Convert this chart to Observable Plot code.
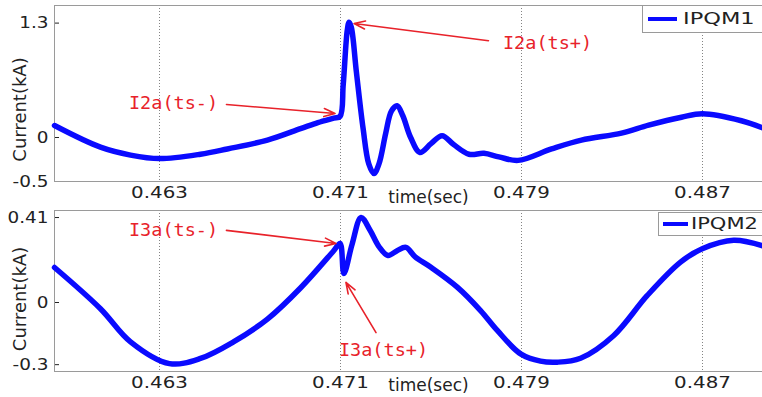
<!DOCTYPE html>
<html><head><meta charset="utf-8">
<script src="https://cdn.jsdelivr.net/npm/d3@7"></script>
<script src="https://cdn.jsdelivr.net/npm/@observablehq/plot@0.6"></script>
<style>
body{margin:0;background:#fff;overflow:hidden}
#wrap{position:relative;width:762px;height:397px;overflow:hidden;background:#fff}
#wrap svg{display:block;overflow:visible}
.panel{position:absolute;left:0}
.legend{position:absolute;background:#fff;border:1px solid #9a9a9a;box-sizing:border-box;width:160px}
.legend .ln{position:absolute;height:4px;background:#0a0aff}
.legend .lt{position:absolute;font:15px "DejaVu Sans";line-height:16px;color:#222;white-space:nowrap;transform-origin:left center}
</style>
</head><body>
<div id="wrap"></div>
<script>
// ---- data ----
const seriesNames = ["IPQM1", "IPQM2"];
const xTicks = [0.463, 0.471, 0.479, 0.487];
const xDomain = [0.4583591, 0.4897403];
const yTicks1 = [-0.5, 0, 1.3];
const yTicks2 = [-0.3, 0, 0.41];
const yDomain1 = [-0.5, 1.5];
const yDomain2 = [-0.333, 0.444];
const xLabel = "time(sec)";
const yLabel = "Current(kA)";

// IPQM1 current (kA) vs time (s)
const t1 = [0.45836, 0.46039, 0.46172, 0.4630, 0.46481, 0.4660, 0.46777, 0.46923, 0.4700, 0.4707, 0.47098,
  0.47112, 0.47130, 0.47138, 0.47148, 0.47170, 0.47200, 0.47225, 0.47248, 0.47270, 0.47300, 0.47325, 0.47350,
  0.47375, 0.47410, 0.47451, 0.47500, 0.47549, 0.47600, 0.47668, 0.47734, 0.47800, 0.47885, 0.48033, 0.48165,
  0.48342, 0.48462, 0.48607, 0.48700, 0.48872, 0.48975];
const i1 = [0.136, -0.11, -0.20, -0.24, -0.19, -0.13, -0.03, 0.10, 0.17, 0.22, 0.24,
  0.60, 1.22, 1.31, 1.25, 0.75, 0.10, -0.30, -0.41, -0.30, 0.05, 0.30, 0.36,
  0.25, 0.00, -0.17, -0.07, 0.02, -0.08, -0.19, -0.18, -0.22, -0.26, -0.13, -0.03,
  0.05, 0.14, 0.23, 0.27, 0.19, 0.10];

// IPQM2 current (kA) vs time (s)
const t2 = [0.45836, 0.46039, 0.46172, 0.46344, 0.46481, 0.46627, 0.46777, 0.46923, 0.4707, 0.47098, 0.47115,
  0.47151, 0.47191, 0.47230, 0.47270, 0.4731, 0.47350, 0.47389, 0.4743, 0.47498, 0.47616, 0.47719, 0.47793,
  0.47896, 0.47984, 0.48058, 0.48161, 0.48308, 0.48456, 0.48603, 0.48699, 0.48838, 0.48975];
const i2 = [0.169, -0.03, -0.19, -0.295, -0.27, -0.19, -0.08, 0.07, 0.25, 0.285, 0.14,
  0.28, 0.41, 0.35, 0.27, 0.227, 0.25, 0.266, 0.22, 0.171, 0.074, -0.039, -0.135,
  -0.248, -0.283, -0.288, -0.269, -0.159, 0.034, 0.195, 0.259, 0.30, 0.27];

// annotations (label position and arrow in data coordinates)
const notes1 = [{label: "I2a(ts-)", t: 0.46362, v: 0.386}, {label: "I2a(ts+)", t: 0.48015, v: 1.068}];
const arrows1 = [{x1: 0.46596, y1: 0.375, x2: 0.47076, y2: 0.273}, {x1: 0.47754, y1: 1.10, x2: 0.4716, y2: 1.295}];
const notes2 = [{label: "I3a(ts-)", t: 0.46362, v: 0.348}, {label: "I3a(ts+)", t: 0.4729, v: -0.232}];
const arrows2 = [{x1: 0.46596, y1: 0.348, x2: 0.4708, y2: 0.285}, {x1: 0.47257, y1: -0.145, x2: 0.47124, y2: 0.097}];

const red = "#e8222a";
const blue = "#0a0aff";

function stretch(svg, selector, sx, sy = 1) {
  svg.querySelectorAll(selector).forEach(t => {
    const tr = t.getAttribute("transform");
    if (tr) t.setAttribute("transform", tr + ` scale(${sx},${sy})`);
    else {
      const x = +t.getAttribute("x") || 0, y = +t.getAttribute("y") || 0;
      t.setAttribute("x", 0); t.setAttribute("y", 0);
      t.setAttribute("transform", `translate(${x},${y}) scale(${sx},${sy})`);
    }
  });
}

function panel({t, v, yDomain, yTicks, height, marginTop, marginBottom, notes, arrows, labelDy, xLabelDy}) {
  const data = t.map((x, i) => ({t: x, v: v[i]}));
  const svg = Plot.plot({
    width: 762, height, marginLeft: 54, marginRight: -2, marginTop, marginBottom,
    style: {fontFamily: "DejaVu Sans", fontSize: "16px", color: "#222", background: "transparent", overflow: "visible"},
    x: {domain: xDomain, ticks: xTicks, tickFormat: d => String(d), tickSize: 0, tickPadding: 5, label: null},
    y: {domain: yDomain, ticks: yTicks, tickFormat: d => String(d), tickSize: -5, tickPadding: 11, label: null},
    marks: [
      Plot.gridX(xTicks, {stroke: "#777", strokeOpacity: 0.9, strokeDasharray: "1,2"}),
      Plot.frame({stroke: "#9a9a9a"}),
      Plot.line(data, {x: "t", y: "v", stroke: blue, strokeWidth: 5.5, curve: "catmull-rom"}),
      Plot.arrow(arrows, {x1: "x1", y1: "y1", x2: "x2", y2: "y2", stroke: red, strokeWidth: 1.6, headLength: 11, headAngle: 40}),
      Plot.text(notes, {x: "t", y: "v", text: "label", fill: red, fontFamily: "DejaVu Sans Mono", fontSize: 18.5, ariaLabel: "annotation"}),
      Plot.text([yLabel], {frameAnchor: "left", textAnchor: "middle", lineAnchor: "middle", rotate: -90, dx: -34, dy: labelDy, fontSize: 18, fill: "#222", ariaLabel: "ytitle"}),
      Plot.text([xLabel], {frameAnchor: "bottom", textAnchor: "middle", lineAnchor: "middle", dx: 19, dy: xLabelDy, fontSize: 17, fill: "#222", ariaLabel: "xtitle"})
    ]
  });
  stretch(svg, 'g[aria-label="x-axis tick label"] text', 1.24);
  stretch(svg, 'g[aria-label="y-axis tick label"] text', 1.15);
  stretch(svg, 'g[aria-label="annotation"] text', 1.13);
  stretch(svg, 'g[aria-label="xtitle"] text', 1.28);
  stretch(svg, 'g[aria-label="ytitle"] text', 1, 1.15);
  return svg;
}

const wrap = document.getElementById("wrap");
const p1 = panel({t: t1, v: i1, yDomain: yDomain1, yTicks: yTicks1, height: 207, marginTop: 5, marginBottom: 26,
  notes: notes1, arrows: arrows1, labelDy: 16, xLabelDy: 16});
const p2 = panel({t: t2, v: i2, yDomain: yDomain2, yTicks: yTicks2, height: 190, marginTop: 3, marginBottom: 26,
  notes: notes2, arrows: arrows2, labelDy: 8, xLabelDy: 14});
const d1 = document.createElement("div"); d1.className = "panel"; d1.style.top = "0px"; d1.appendChild(p1);
const d2 = document.createElement("div"); d2.className = "panel"; d2.style.top = "207px"; d2.appendChild(p2);
wrap.appendChild(d1); wrap.appendChild(d2);

// legends
const legendBoxes = [
  {left: 642, top: 5, h: 28, lnL: 5, lnT: 11, lnW: 29, txL: 40, txT: 5, sx: 1.5},
  {left: 658, top: 212, h: 24, lnL: 4, lnT: 9, lnW: 25, txL: 32, txT: 3, sx: 1.4}
];
seriesNames.forEach((name, k) => {
  const b = legendBoxes[k];
  const lg = document.createElement("div");
  lg.className = "legend";
  lg.style.left = b.left + "px"; lg.style.top = b.top + "px"; lg.style.height = b.h + "px";
  const ln = document.createElement("span"); ln.className = "ln";
  ln.style.left = b.lnL + "px"; ln.style.top = b.lnT + "px"; ln.style.width = b.lnW + "px";
  const tx = document.createElement("span"); tx.className = "lt";
  tx.style.left = b.txL + "px"; tx.style.top = b.txT + "px"; tx.style.transform = `scaleX(${b.sx})`;
  tx.textContent = name;
  lg.appendChild(ln); lg.appendChild(tx);
  wrap.appendChild(lg);
});
</script>
</body></html>
